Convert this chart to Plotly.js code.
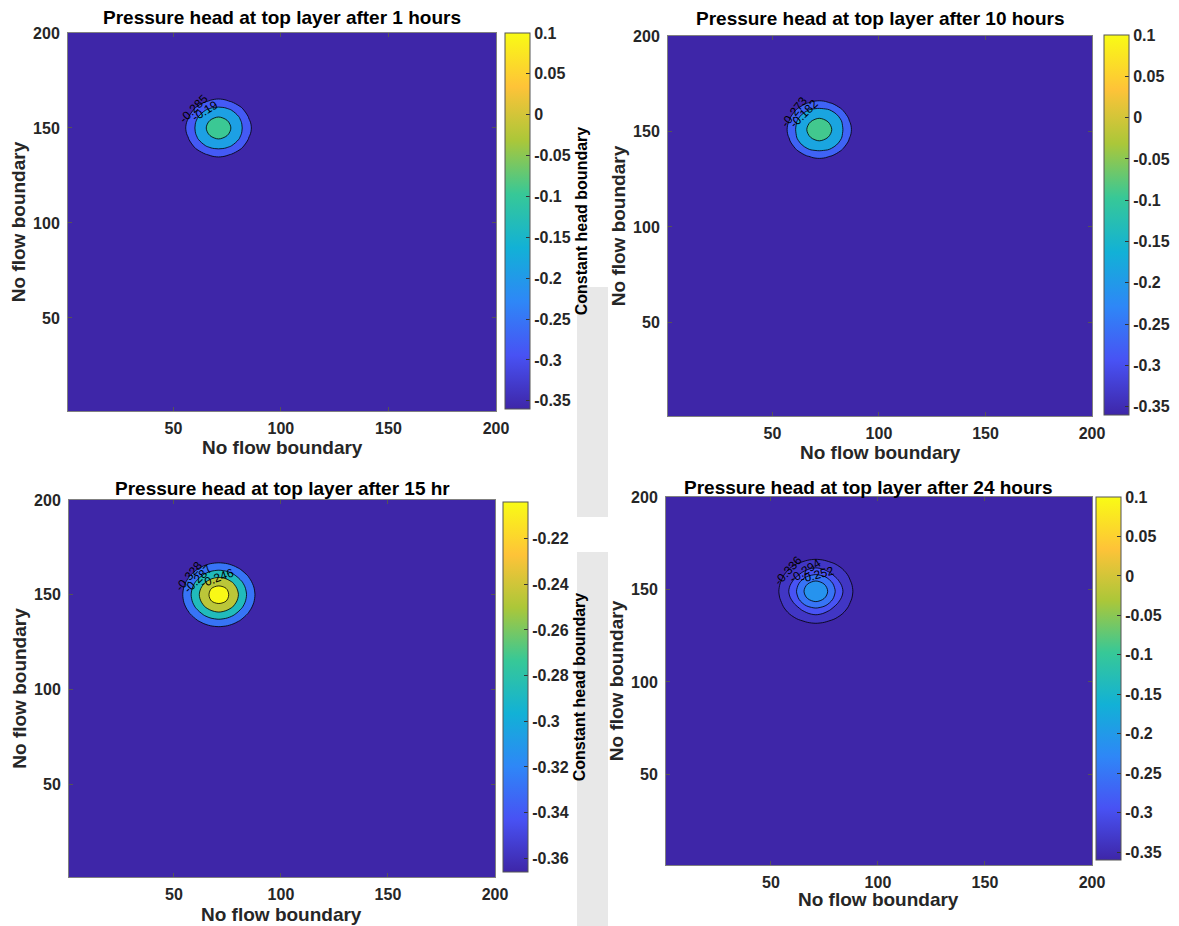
<!DOCTYPE html>
<html><head><meta charset="utf-8">
<script src="https://cdn.plot.ly/plotly-3.0.1.min.js"></script>
<style>html,body{margin:0;padding:0;background:#fff}#chart{width:1179px;height:926px}</style>
</head><body><div id="chart"></div>
<script>
// ===== DATA =====
const panelTitles = [
  'Pressure head at top layer after 1 hours',
  'Pressure head at top layer after 10 hours',
  'Pressure head at top layer after 15 hr',
  'Pressure head at top layer after 24 hours'
];
const axisTitle = 'No flow boundary';
const colorbarTitle = 'Constant head boundary';
const axisTickVals = [50, 100, 150, 200];
const axisRange = [1, 200];

// Panel 1 (1 h): grid coordinates and pressure head values
const p1X = [1, 53, 57, 61, 65, 69, 73, 77, 81, 85, 89, 200];
const p1Y = [1, 132, 136, 140, 144, 148, 152, 156, 160, 164, 168, 200];
const p1Background = -0.36;
const p1Core = [
  [-0.36,-0.36,-0.36,-0.352,-0.346,-0.346,-0.352,-0.36,-0.36,-0.36],
  [-0.36,-0.358,-0.329,-0.290,-0.263,-0.263,-0.290,-0.329,-0.358,-0.36],
  [-0.36,-0.329,-0.263,-0.199,-0.171,-0.171,-0.199,-0.263,-0.329,-0.36],
  [-0.352,-0.290,-0.199,-0.141,-0.104,-0.104,-0.141,-0.199,-0.290,-0.352],
  [-0.346,-0.263,-0.171,-0.104,-0.055,-0.055,-0.104,-0.171,-0.263,-0.346],
  [-0.346,-0.263,-0.171,-0.104,-0.055,-0.055,-0.104,-0.171,-0.263,-0.346],
  [-0.352,-0.290,-0.199,-0.141,-0.104,-0.104,-0.141,-0.199,-0.290,-0.352],
  [-0.36,-0.329,-0.263,-0.199,-0.171,-0.171,-0.199,-0.263,-0.329,-0.36],
  [-0.36,-0.358,-0.329,-0.290,-0.263,-0.263,-0.290,-0.329,-0.358,-0.36],
  [-0.36,-0.36,-0.36,-0.352,-0.346,-0.346,-0.352,-0.36,-0.36,-0.36]
];
const p1Levels = [-0.285, -0.19, -0.095];
const p1LabelLevels = [-0.285, -0.19];
const p1ColorRange = [-0.36, 0.1];
const p1CbTickVals = [0.1, 0.05, 0, -0.05, -0.1, -0.15, -0.2, -0.25, -0.3, -0.35];
const p1CbTickText = ['0.1', '0.05', '0', '-0.05', '-0.1', '-0.15', '-0.2', '-0.25', '-0.3', '-0.35'];

// Panel 2 (10 h)
const p2X = [1, 54, 58, 62, 66, 70, 74, 78, 82, 86, 90, 200];
const p2Y = [1, 133, 137, 141, 145, 149, 153, 157, 161, 165, 169, 200];
const p2Background = -0.36;
const p2Core = [
  [-0.36,-0.36,-0.36,-0.350,-0.341,-0.341,-0.350,-0.36,-0.36,-0.36],
  [-0.36,-0.358,-0.323,-0.280,-0.253,-0.253,-0.280,-0.323,-0.358,-0.36],
  [-0.36,-0.323,-0.253,-0.186,-0.161,-0.161,-0.186,-0.253,-0.323,-0.36],
  [-0.350,-0.280,-0.186,-0.133,-0.098,-0.098,-0.133,-0.186,-0.280,-0.350],
  [-0.341,-0.253,-0.161,-0.098,-0.052,-0.052,-0.098,-0.161,-0.253,-0.341],
  [-0.341,-0.253,-0.161,-0.098,-0.052,-0.052,-0.098,-0.161,-0.253,-0.341],
  [-0.350,-0.280,-0.186,-0.133,-0.098,-0.098,-0.133,-0.186,-0.280,-0.350],
  [-0.36,-0.323,-0.253,-0.186,-0.161,-0.161,-0.186,-0.253,-0.323,-0.36],
  [-0.36,-0.358,-0.323,-0.280,-0.253,-0.253,-0.280,-0.323,-0.358,-0.36],
  [-0.36,-0.36,-0.36,-0.350,-0.341,-0.341,-0.350,-0.36,-0.36,-0.36]
];
const p2Levels = [-0.273, -0.182, -0.091];
const p2LabelLevels = [-0.273, -0.182];
const p2ColorRange = [-0.36, 0.1];
const p2CbTickVals = p1CbTickVals;
const p2CbTickText = p1CbTickText;

// Panel 3 (15 h)
const p3X = [1, 53, 57, 61, 65, 69, 73, 77, 81, 85, 89, 200];
const p3Y = [1, 132, 136, 140, 144, 148, 152, 156, 160, 164, 168, 200];
const p3Background = -0.366;
const p3Core = [
  [-0.366,-0.366,-0.362,-0.350,-0.341,-0.341,-0.350,-0.362,-0.366,-0.366],
  [-0.366,-0.358,-0.332,-0.312,-0.301,-0.301,-0.312,-0.332,-0.358,-0.366],
  [-0.362,-0.332,-0.301,-0.274,-0.257,-0.257,-0.274,-0.301,-0.332,-0.362],
  [-0.350,-0.312,-0.274,-0.239,-0.219,-0.219,-0.239,-0.274,-0.312,-0.350],
  [-0.341,-0.301,-0.257,-0.219,-0.188,-0.188,-0.219,-0.257,-0.301,-0.341],
  [-0.341,-0.301,-0.257,-0.219,-0.188,-0.188,-0.219,-0.257,-0.301,-0.341],
  [-0.350,-0.312,-0.274,-0.239,-0.219,-0.219,-0.239,-0.274,-0.312,-0.350],
  [-0.362,-0.332,-0.301,-0.274,-0.257,-0.257,-0.274,-0.301,-0.332,-0.362],
  [-0.366,-0.358,-0.332,-0.312,-0.301,-0.301,-0.312,-0.332,-0.358,-0.366],
  [-0.366,-0.366,-0.362,-0.350,-0.341,-0.341,-0.350,-0.362,-0.366,-0.366]
];
const p3Levels = [-0.328, -0.287, -0.246, -0.205];
const p3LabelLevels = [-0.328, -0.287, -0.246];
const p3ColorRange = [-0.366, -0.204];
const p3CbTickVals = [-0.22, -0.24, -0.26, -0.28, -0.3, -0.32, -0.34, -0.36];
const p3CbTickText = ['-0.22', '-0.24', '-0.26', '-0.28', '-0.3', '-0.32', '-0.34', '-0.36'];

// Panel 4 (24 h)
const p4X = [1, 53, 57, 61, 65, 69, 73, 77, 81, 85, 89, 200];
const p4Y = [1, 131, 135, 139, 143, 147, 151, 155, 159, 163, 167, 200];
const p4Background = -0.36;
const p4Core = [
  [-0.36,-0.36,-0.36,-0.351,-0.343,-0.343,-0.351,-0.36,-0.36,-0.36],
  [-0.36,-0.358,-0.335,-0.320,-0.311,-0.311,-0.320,-0.335,-0.358,-0.36],
  [-0.36,-0.335,-0.311,-0.290,-0.269,-0.269,-0.290,-0.311,-0.335,-0.36],
  [-0.351,-0.320,-0.290,-0.245,-0.216,-0.216,-0.245,-0.290,-0.320,-0.351],
  [-0.343,-0.311,-0.269,-0.216,-0.190,-0.190,-0.216,-0.269,-0.311,-0.343],
  [-0.343,-0.311,-0.269,-0.216,-0.190,-0.190,-0.216,-0.269,-0.311,-0.343],
  [-0.351,-0.320,-0.290,-0.245,-0.216,-0.216,-0.245,-0.290,-0.320,-0.351],
  [-0.36,-0.335,-0.311,-0.290,-0.269,-0.269,-0.290,-0.311,-0.335,-0.36],
  [-0.36,-0.358,-0.335,-0.320,-0.311,-0.311,-0.320,-0.335,-0.358,-0.36],
  [-0.36,-0.36,-0.36,-0.351,-0.343,-0.343,-0.351,-0.36,-0.36,-0.36]
];
const p4Levels = [-0.336, -0.294, -0.252, -0.210];
const p4LabelLevels = [-0.336, -0.294, -0.252];
const p4ColorRange = [-0.36, 0.1];
const p4CbTickVals = p1CbTickVals;
const p4CbTickText = p1CbTickText;

// parula colour map stops
const parulaStops = [
  [0.0000, [0.2422, 0.1504, 0.6603]],
  [0.1429, [0.2810, 0.3228, 0.9579]],
  [0.2857, [0.1786, 0.5289, 0.9682]],
  [0.4286, [0.0689, 0.6948, 0.8394]],
  [0.5714, [0.2161, 0.7843, 0.5923]],
  [0.7143, [0.6720, 0.7793, 0.2227]],
  [0.8571, [0.9970, 0.7659, 0.2199]],
  [1.0000, [0.9769, 0.9839, 0.0805]]
];

// ===== BUILD =====
const W = 1179, H = 926;
const FONT = 'Liberation Sans, Arial, Helvetica, sans-serif';
const TXT = '#262626';

function rgb(c) { return 'rgb(' + c.map(v => Math.round(v * 255)).join(',') + ')'; }
function parulaAt(f) {
  f = Math.max(0, Math.min(1, f));
  for (let i = 1; i < parulaStops.length; i++) {
    const [f0, c0] = parulaStops[i - 1], [f1, c1] = parulaStops[i];
    if (f <= f1) {
      const t = (f - f0) / (f1 - f0);
      return rgb(c0.map((v, k) => v + t * (c1[k] - v)));
    }
  }
  return rgb(parulaStops[parulaStops.length - 1][1]);
}
const parulaScale = parulaStops.map(s => [s[0], rgb(s[1])]);

function padGrid(core, bg) {
  const n = core[0].length + 2;
  const row = new Array(n).fill(bg);
  return [row, ...core.map(r => [bg, ...r, bg]), row.slice()];
}

// Plotly fills the band above level L with colour(L + size/2); MATLAB colours it by L.
function bandScale(levels, range) {
  const nc = levels.length;
  const norm = v => (v - range[0]) / (range[1] - range[0]);
  const scale = [[0, parulaAt(0)]];
  levels.forEach((L, k) => scale.push([(k + 1) / nc, parulaAt(norm(L))]));
  return scale;
}

// value of the gridded field at (x, y) (bilinear, for placing labels on the lines)
function fieldAt(xs, ys, z, x, y) {
  let i = 0, j = 0;
  while (i < xs.length - 2 && xs[i + 1] < x) i++;
  while (j < ys.length - 2 && ys[j + 1] < y) j++;
  const tx = (x - xs[i]) / (xs[i + 1] - xs[i]), ty = (y - ys[j]) / (ys[j + 1] - ys[j]);
  return (1 - ty) * ((1 - tx) * z[j][i] + tx * z[j][i + 1]) +
         ty * ((1 - tx) * z[j + 1][i] + tx * z[j + 1][i + 1]);
}
function pointOnLevel(xs, ys, z, level, deg) {
  const cx = (xs[1] + xs[xs.length - 2]) / 2, cy = (ys[1] + ys[ys.length - 2]) / 2;
  const a = deg * Math.PI / 180;
  let r = 0;
  while (r < 60 && fieldAt(xs, ys, z, cx + r * Math.cos(a), cy + r * Math.sin(a)) > level) r += 0.05;
  return [cx + r * Math.cos(a), cy + r * Math.sin(a)];
}

const panels = [
  {x: p1X, y: p1Y, core: p1Core, bg: p1Background, levels: p1Levels, labels: p1LabelLevels,
   range: p1ColorRange, tv: p1CbTickVals, tt: p1CbTickText, cbTitle: true,
   labelDir: [140, 125], labelRot: [-45, -32],
   box: [68, 33, 496, 411], cb: [505, 33, 409], title: [282, 17], xt: [282, 447]},
  {x: p2X, y: p2Y, core: p2Core, bg: p2Background, levels: p2Levels, labels: p2LabelLevels,
   range: p2ColorRange, tv: p2CbTickVals, tt: p2CbTickText, cbTitle: false,
   labelDir: [142, 132], labelRot: [-52, -45],
   box: [668, 36, 1092, 416], cb: [1104, 35, 415], title: [880, 19], xt: [880, 452]},
  {x: p3X, y: p3Y, core: p3Core, bg: p3Background, levels: p3Levels, labels: p3LabelLevels,
   range: p3ColorRange, tv: p3CbTickVals, tt: p3CbTickText, cbTitle: true,
   labelDir: [145, 140, 95], labelRot: [-50, -45, -20],
   box: [69, 500, 495, 877], cb: [503, 502, 872], title: [282, 488], xt: [281, 914]},
  {x: p4X, y: p4Y, core: p4Core, bg: p4Background, levels: p4Levels, labels: p4LabelLevels,
   range: p4ColorRange, tv: p4CbTickVals, tt: p4CbTickText, cbTitle: false,
   labelDir: [140, 115, 88], labelRot: [-48, -32, -15],
   box: [666, 497, 1092, 865], cb: [1096, 497, 860], title: [868, 487], xt: [878, 899]}
];

const data = [];
const layout = {
  width: W, height: H, margin: {l: 0, r: 0, t: 0, b: 0},
  paper_bgcolor: '#fff', plot_bgcolor: '#fff', showlegend: false, hovermode: false,
  annotations: [],
  shapes: [
    {type: 'rect', xref: 'paper', yref: 'paper', layer: 'below', line: {width: 0}, fillcolor: '#e8e8e8',
     x0: 577 / W, x1: 608 / W, y0: 1 - 517 / H, y1: 1 - 287 / H},
    {type: 'rect', xref: 'paper', yref: 'paper', layer: 'below', line: {width: 0}, fillcolor: '#e8e8e8',
     x0: 577 / W, x1: 608 / W, y0: 0, y1: 1 - 552 / H}
  ]
};

panels.forEach((p, i) => {
  const n = i === 0 ? '' : String(i + 1);
  const xa = 'x' + n, ya = 'y' + n;
  const size = +(p.levels[1] - p.levels[0]).toFixed(4);
  const z = padGrid(p.core, p.bg);
  data.push({
    type: 'contour', x: p.x, y: p.y, z: z,
    xaxis: xa, yaxis: ya, autocontour: false,
    contours: {start: p.levels[0], end: p.levels[p.levels.length - 1], size: size,
      coloring: 'fill', showlabels: false},
    colorscale: bandScale(p.levels, p.range), showscale: false,
    line: {color: '#000', width: 0.8, smoothing: 1.3},
    hoverinfo: 'skip'
  });
  const cbLen = p.cb[2] - p.cb[1];
  data.push({
    type: 'scatter', mode: 'markers', x: [null], y: [null], xaxis: xa, yaxis: ya,
    hoverinfo: 'skip', showlegend: false,
    marker: {color: [p.range[0], p.range[1]], cmin: p.range[0], cmax: p.range[1],
      colorscale: parulaScale, showscale: true, size: 1,
      colorbar: {
        x: p.cb[0] / W, xanchor: 'left', xpad: 0, ypad: 0,
        y: 1 - (p.cb[1] + cbLen / 2) / H, yanchor: 'middle',
        len: cbLen, lenmode: 'pixels', thickness: 25, thicknessmode: 'pixels',
        outlinewidth: 1, outlinecolor: '#555',
        tickmode: 'array', tickvals: p.tv, ticktext: p.tt,
        ticks: 'inside', ticklen: 4, tickcolor: '#333',
        tickfont: {family: FONT, size: 16, color: TXT, weight: 'bold'},
        title: p.cbTitle ? {text: colorbarTitle, side: 'right',
          font: {family: FONT, size: 16, color: '#000', weight: 'bold'}} : {text: ''}
      }}
  });
  // contour labels placed on their lines
  p.labels.forEach((L, k) => {
    const pt = pointOnLevel(p.x, p.y, z, L, p.labelDir[k]);
    layout.annotations.push({
      text: String(L), xref: xa, yref: ya, x: pt[0], y: pt[1],
      xanchor: 'center', yanchor: 'middle', showarrow: false, textangle: p.labelRot[k],
      font: {family: FONT, size: 12, color: '#000'}
    });
  });
  const b = p.box;
  const common = {
    range: axisRange, tickmode: 'array', tickvals: axisTickVals,
    showgrid: false, zeroline: false, showline: true, mirror: 'ticks',
    linecolor: '#808080', linewidth: 1, ticks: 'inside', ticklen: 4, tickcolor: '#555',
    tickfont: {family: FONT, size: 16, color: TXT, weight: 'bold'},
    fixedrange: true
  };
  layout['xaxis' + n] = Object.assign({}, common, {
    domain: [b[0] / W, b[2] / W], anchor: ya, ticklabelstandoff: 3
  });
  layout['yaxis' + n] = Object.assign({}, common, {
    domain: [1 - b[3] / H, 1 - b[1] / H], anchor: xa, ticklabelstandoff: 4,
    title: {text: axisTitle, standoff: 2, font: {family: FONT, size: 19, color: TXT, weight: 'bold'}}
  });
  layout.annotations.push({
    text: axisTitle, xref: 'paper', yref: 'paper',
    x: p.xt[0] / W, y: 1 - p.xt[1] / H, xanchor: 'center', yanchor: 'middle',
    showarrow: false, font: {family: FONT, size: 19, color: TXT, weight: 'bold'}
  });
  layout.annotations.push({
    text: panelTitles[i], xref: 'paper', yref: 'paper',
    x: p.title[0] / W, y: 1 - p.title[1] / H, xanchor: 'center', yanchor: 'middle',
    showarrow: false, font: {family: FONT, size: 19, color: '#000', weight: 'bold'}
  });
});

Plotly.newPlot('chart', data, layout, {displayModeBar: false, staticPlot: true});
</script>
</body></html>
